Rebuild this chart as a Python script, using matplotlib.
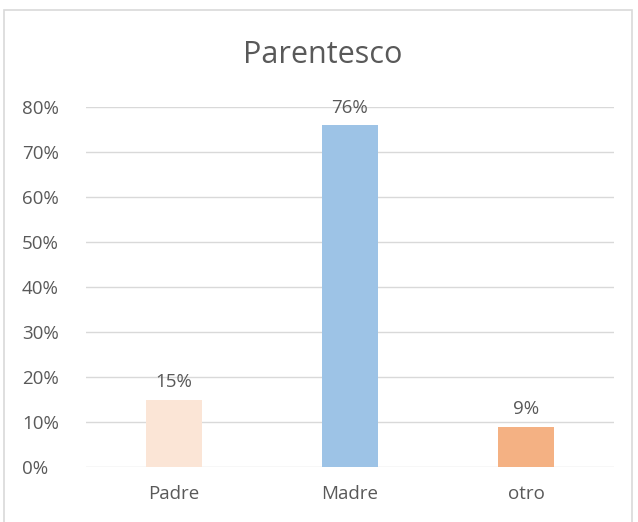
import matplotlib.pyplot as plt
from matplotlib.patches import Rectangle

categories = ["Padre", "Madre", "otro"]
values = [0.15, 0.76, 0.09]
labels = ["15%", "76%", "9%"]
colors = ["#FBE5D6", "#9DC3E6", "#F4B183"]
yticks = [0, 0.1, 0.2, 0.3, 0.4, 0.5, 0.6, 0.7, 0.8]

plt.rcParams['font.family'] = ['Open Sans', 'DejaVu Sans']
text_color = "#595959"

fig = plt.figure(figsize=(6.38, 5.22), dpi=100)
# chart border
fig.patches.append(Rectangle((4 / 638, -0.01), 628 / 638, 1 - 10 / 522 + 0.01,
                             transform=fig.transFigure, fill=False,
                             edgecolor="#D9D9D9", linewidth=1.2))

ax = fig.add_axes([86 / 638, 55 / 522, 528 / 638, 360 / 522])
x = range(len(categories))
ax.bar(x, values, width=0.32, color=colors, zorder=3)
for xi, v, lab in zip(x, values, labels):
    ax.annotate(lab, (xi, v), xytext=(0, 6), textcoords="offset points",
                ha="center", va="bottom", fontsize=13.5, color=text_color)

ax.set_xlim(-0.5, 2.5)
ax.set_ylim(0, 0.8)
ax.set_yticks(yticks)
ax.set_yticklabels([f"{int(round(t * 100))}%" for t in yticks])
ax.set_xticks(list(x))
ax.set_xticklabels(categories)
ax.grid(axis="y", color="#D9D9D9", linewidth=1, zorder=0)
for s in ax.spines.values():
    s.set_visible(False)
ax.tick_params(axis="both", length=0, labelsize=13.5, labelcolor=text_color)
ax.tick_params(axis="x", pad=13)
for lab in ax.get_yticklabels():
    lab.set_horizontalalignment("left")
ax.yaxis.set_tick_params(pad=46)

fig.text(323 / 638, 1 - 55 / 522, "Parentesco", ha="center", va="center",
         fontsize=22, color=text_color)

fig.savefig("out.png", dpi=100)
